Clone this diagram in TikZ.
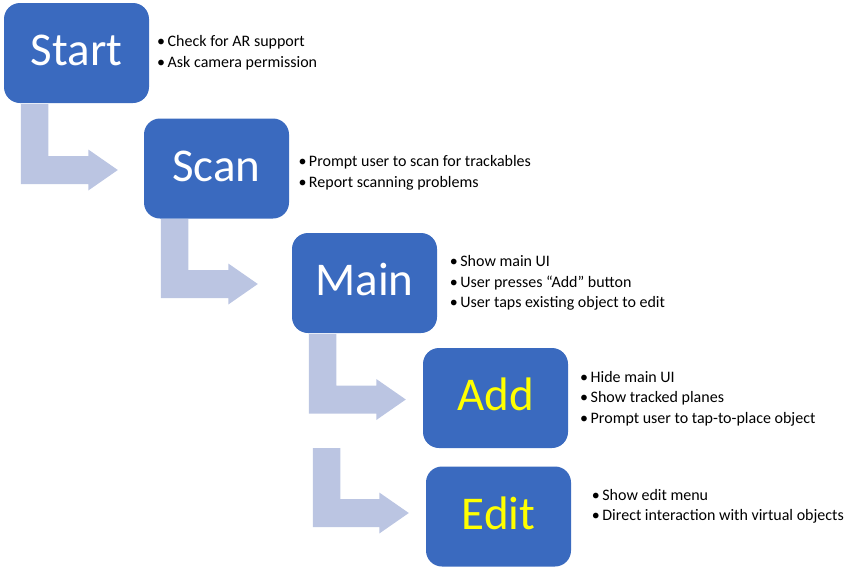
\documentclass[tikz,border=0pt]{standalone}
\usepackage{fontspec}
\setmainfont{Carlito}
\usetikzlibrary{calc}
\definecolor{boxblue}{RGB}{58,106,191}
\definecolor{arrowfill}{RGB}{187,197,226}
\definecolor{labyellow}{RGB}{255,255,0}
\newcommand\blockarrow[2]{%
  \fill[arrowfill] let \p1=(#1), \p2=(#2) in
    (\x1,\y1) -- (\x1+27.5pt,\y1) -- (\x1+27.5pt,\y2+14pt) -- (\x2-29.5pt,\y2+14pt)
    -- (\x2-29.5pt,\y2+20.5pt) -- (\x2,\y2) -- (\x2-29.5pt,\y2-20.5pt)
    -- (\x2-29.5pt,\y2-14pt) -- (\x1,\y2-14pt) -- cycle;}
\newcommand\bul{\makebox[10.5pt][l]{•}}
\tikzset{
  stage/.style={rectangle, rounded corners=16pt, fill=boxblue, minimum width=145pt,
    minimum height=100pt, inner sep=0pt, text height=30pt, text depth=5pt,
    font=\fontsize{47}{50}\selectfont, text=white},
  yellowlab/.style={text=labyellow},
  bullets/.style={anchor=base west, inner sep=0pt, font=\fontsize{16}{20.6}\selectfont}
}
\begin{document}
\begin{tikzpicture}[x=1pt,y=-1pt]
\useasboundingbox (0,0) rectangle (849,571);
\node[stage] (start) at (76.5,53) {Start};
\node[stage] (scan) at (216.5,168.5) {Scan};
\node[stage] (main) at (364.5,283) {Main};
\node[stage,yellowlab] (add) at (495.5,398) {Add};
\node[stage,yellowlab] (edit) at (498.5,516.5) {Edit};

\coordinate (a1s) at ($(start.south west)+(17,1)$);
\coordinate (a1e) at ($(scan.west)+(-26,1.5)$);
\coordinate (a2s) at ($(scan.south west)+(17,0.5)$);
\coordinate (a2e) at ($(main.west)+(-34,1)$);
\coordinate (a3s) at ($(main.south west)+(17,1)$);
\coordinate (a3e) at ($(add.west)+(-17,1.5)$);
\coordinate (a4s) at ($(main.south west|-add.south)+(21,0)$);
\coordinate (a4e) at ($(edit.west)+(-17,-3.5)$);
\blockarrow{a1s}{a1e}
\blockarrow{a2s}{a2e}
\blockarrow{a3s}{a3e}
\blockarrow{a4s}{a4e}

\node[bullets] (startnotes) at (157,46.7) {\begin{tabular}[t]{@{}l@{}}
\bul Check for AR support\\ \bul Ask camera permission\end{tabular}};
\node[bullets] (scannotes) at (298.3,166.7) {\begin{tabular}[t]{@{}l@{}}
\bul Prompt user to scan for trackables\\ \bul Report scanning problems\end{tabular}};
\node[bullets] (mainnotes) at (449.7,266.7) {\begin{tabular}[t]{@{}l@{}}
\bul Show main UI\\ \bul User presses “Add” button\\ \bul User taps existing object to edit\end{tabular}};
\node[bullets] (addnotes) at (580,382.3) {\begin{tabular}[t]{@{}l@{}}
\bul Hide main UI\\ \bul Show tracked planes\\ \bul Prompt user to tap-to-place object\end{tabular}};
\node[bullets] (editnotes) at (591.7,500) {\begin{tabular}[t]{@{}l@{}}
\bul Show edit menu\\ \bul Direct interaction with virtual objects\end{tabular}};
\end{tikzpicture}
\end{document}
